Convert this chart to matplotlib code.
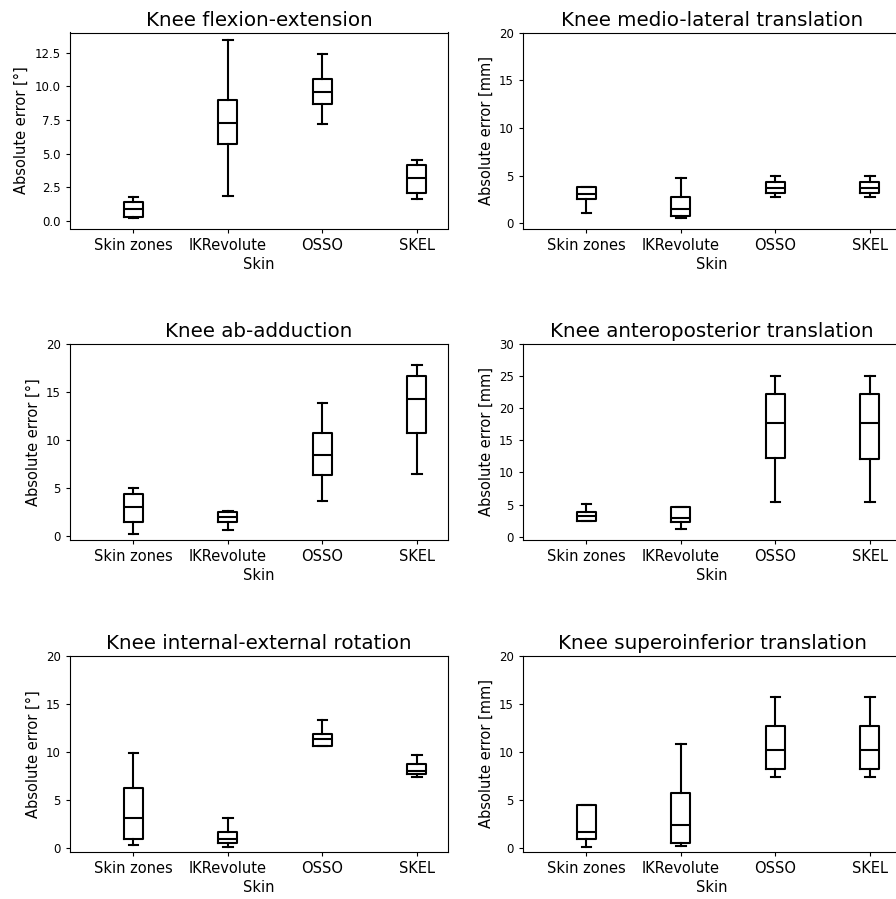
import matplotlib
matplotlib.use("Agg")
import matplotlib.pyplot as plt
from matplotlib.ticker import MultipleLocator

methods = ["Skin zones", "IKRevolute", "OSSO", "SKEL"]

# five-number summaries: [whisker low, Q1, median, Q3, whisker high]
flexion_ext = [[0.18, 0.25, 0.85, 1.39, 1.74],
               [1.86, 5.73, 7.25, 8.98, 13.42],
               [7.22, 8.68, 9.55, 10.54, 12.43],
               [1.59, 2.06, 3.15, 4.17, 4.54]]
medio_lat = [[1.12, 2.52, 3.08, 3.80, 3.80],
             [0.53, 0.77, 1.47, 2.74, 4.74],
             [2.77, 3.16, 3.68, 4.30, 5.00],
             [2.77, 3.16, 3.68, 4.30, 5.00]]
ab_add = [[0.18, 1.47, 3.04, 4.34, 4.97],
          [0.57, 1.47, 1.99, 2.45, 2.59],
          [3.67, 6.34, 8.40, 10.70, 13.85],
          [6.44, 10.74, 14.24, 16.70, 17.80]]
antero_post = [[2.50, 2.50, 3.29, 3.91, 5.12],
               [1.20, 2.30, 2.87, 4.65, 4.65],
               [5.43, 12.26, 17.74, 22.17, 24.94],
               [5.43, 12.05, 17.74, 22.17, 24.94]]
int_ext_rot = [[0.24, 0.87, 3.11, 6.26, 9.90],
               [0.10, 0.52, 0.94, 1.64, 3.11],
               [10.66, 10.66, 11.33, 11.85, 13.29],
               [7.41, 7.66, 8.00, 8.71, 9.62]]
sup_inf = [[0.10, 0.87, 1.64, 4.41, 4.41],
           [0.21, 0.49, 2.38, 5.70, 10.80],
           [7.41, 8.18, 10.17, 12.73, 15.77],
           [7.41, 8.18, 10.17, 12.73, 15.77]]

panels = [
    ("Knee flexion-extension", "Absolute error [°]", flexion_ext, (-0.57, 14.0), 2.5),
    ("Knee medio-lateral translation", "Absolute error [mm]", medio_lat, (-0.53, 20), 5),
    ("Knee ab-adduction", "Absolute error [°]", ab_add, (-0.45, 20), 5),
    ("Knee anteroposterior translation", "Absolute error [mm]", antero_post, (-0.52, 30), 5),
    ("Knee internal-external rotation", "Absolute error [°]", int_ext_rot, (-0.45, 20), 5),
    ("Knee superoinferior translation", "Absolute error [mm]", sup_inf, (-0.45, 20), 5),
]

fig = plt.figure(figsize=(8.96, 8.99), dpi=100)

W, H = 896, 899
col_x = [70, 523]
row_bottom = [228.5, 540, 852]
ax_w, ax_h = 378, 196

line = dict(color="black", linewidth=1.5)

for i, (title, ylabel, vals, ylim, step) in enumerate(panels):
    r, c = divmod(i, 2)
    ax = fig.add_axes([col_x[c] / W, 1 - row_bottom[r] / H, ax_w / W, ax_h / H])
    stats = []
    for name, v in zip(methods, vals):
        stats.append(dict(label=name, whislo=v[0], q1=v[1], med=v[2], q3=v[3], whishi=v[4], fliers=[]))
    ax.bxp(stats, positions=[1, 2, 3, 4], widths=0.2, showfliers=False,
           boxprops=line, whiskerprops=line, capprops=line, medianprops=line)
    ax.set_xlim(0.33, 4.33)
    ax.set_ylim(*ylim)
    ax.yaxis.set_major_locator(MultipleLocator(step))
    ax.set_title(title, fontsize=14.3, pad=5)
    ax.set_ylabel(ylabel, fontsize=10.5)
    ax.set_xlabel("Skin", fontsize=10.5, labelpad=3)
    ax.tick_params(axis="x", labelsize=10.5)
    ax.tick_params(axis="y", labelsize=8.5)
    ax.tick_params(length=3)

fig.savefig("out.png", dpi=100)
